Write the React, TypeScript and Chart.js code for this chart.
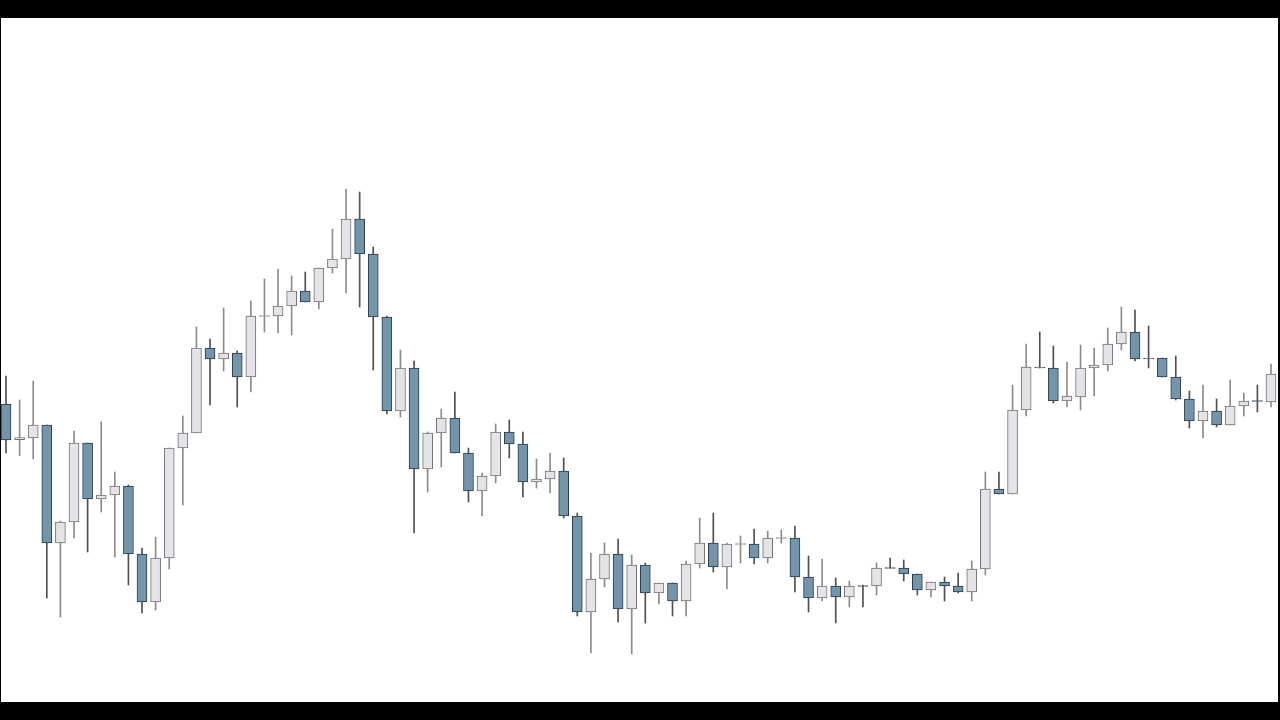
import React, { useEffect, useRef } from "react";
import { Chart, registerables } from "chart.js";

Chart.register(...registerables);

// OHLC values (94 sessions)
const opens = [
  298, 262.3, 264, 277, 159, 180, 259, 203, 207, 216, 148, 100, 144, 254, 269, 354, 343, 349, 325, 385.5,
  386, 396, 411, 400, 434, 443, 483, 448, 385, 291, 334, 233, 269, 284, 249, 211, 226, 270, 258, 220,
  223, 231, 186, 90, 123, 148, 93, 137, 109, 119, 101, 138, 159, 135, 157.5, 158, 144, 163.5, 164, 125,
  104, 116, 105, 116.5, 116, 134.5, 134, 128, 112, 120, 116, 110, 133, 213, 208, 292, 335, 334, 301, 305,
  334, 337, 358, 370, 344, 344, 325, 303, 281, 291, 277, 296, 301.5, 300,
];
const highs = [
  326, 302, 321, 277, 181, 271, 259, 280, 230, 217, 154, 165, 254, 286, 375, 363, 394, 351, 401, 423,
  433, 426, 430, 434, 473, 513, 510, 455, 386, 352, 341, 270, 293, 310, 254, 229, 278, 282, 270, 243,
  249, 244, 189, 149, 159, 163, 147, 139, 119, 119, 141, 184, 189, 159, 166, 173, 171, 172, 176, 146,
  143, 124, 121, 117, 139, 144, 142, 128, 120, 125, 129, 141, 230, 230, 317, 358, 370, 356, 340, 357,
  354, 374, 395, 392, 376, 344, 346, 311, 317, 303, 322, 309, 317, 338,
];
const lows = [
  249, 246.3, 243, 104, 85, 164, 150, 190, 145, 117, 89, 92, 133, 197, 269, 297, 331, 295, 310, 370,
  369, 367, 400, 393, 429, 409, 395, 332, 288, 285, 169, 210, 235, 249, 200, 186, 219, 244, 205, 214,
  209, 184, 86, 49, 115, 80, 48, 79, 98, 86, 86, 134, 130, 113, 139, 138, 139, 159, 110, 90,
  101, 79, 95, 95, 107, 134, 121, 107, 105, 101, 109, 101, 127, 208, 208, 286, 334, 299, 295, 292,
  306, 331, 352, 341, 334, 325, 302, 274, 264, 275, 277, 286, 290, 295,
];
const closes = [
  262, 264.3, 277, 159, 180, 259, 203, 207, 216, 148, 100, 144, 254, 269, 354, 343, 349, 325, 386, 386.5,
  396, 411, 400, 434, 443, 483, 448, 385, 291, 334, 233, 269, 284, 249, 211, 226, 270, 258, 220, 223,
  231, 186, 90, 123, 148, 93, 137, 109, 119, 101, 138, 159, 135, 158, 158.5, 144, 164, 164.5, 125, 104,
  116, 105, 116, 115.5, 134, 133.5, 128, 112, 120, 116, 110, 133, 213, 208, 292, 335, 334, 301, 306, 334,
  337, 358, 370, 343, 343, 325, 303, 281, 291, 277, 296, 301, 300.5, 328,
];

const BULL_FILL = "#e3e3e8";
const BULL_BORDER = "#747478";
const BEAR_FILL = "#7395ac";
const BEAR_BORDER = "#2c3b46";
const BULL_WICK = "#8c8c8c";
const BEAR_WICK = "#505050";

export default function App() {
  const ref = useRef<HTMLCanvasElement | null>(null);

  useEffect(() => {
    document.body.style.margin = "0";
    const canvas = ref.current;
    if (!canvas) return;
    const idx = opens.map((_, i) => i);
    const bodies = idx.map((i) => ({ x: i, y: [opens[i], closes[i]] }));
    const wicks = idx.map((i) => ({ x: i, y: [lows[i], highs[i]] }));
    const isBull = idx.map((i) => closes[i] >= opens[i]);

    const chart = new Chart(canvas, {
      type: "bar",
      data: {
        datasets: [
          {
            label: "body",
            data: bodies as any,
            backgroundColor: isBull.map((b) => (b ? BULL_FILL : BEAR_FILL)),
            borderColor: isBull.map((b) => (b ? BULL_BORDER : BEAR_BORDER)),
            borderWidth: 1,
            borderSkipped: false,
            barThickness: 10,
            grouped: false,
            order: 0,
          } as any,
          {
            label: "wick",
            data: wicks as any,
            backgroundColor: isBull.map((b) => (b ? BULL_WICK : BEAR_WICK)),
            borderWidth: 0,
            barThickness: 1,
            grouped: false,
            order: 1,
          } as any,
        ],
      },
      options: {
        animation: false,
        responsive: true,
        maintainAspectRatio: false,
        layout: { padding: 0 },
        plugins: { legend: { display: false }, tooltip: { enabled: false } },
        scales: {
          x: {
            type: "linear",
            display: false,
            min: -0.3676,
            max: 93.515,
            offset: false,
          },
          y: {
            type: "linear",
            display: false,
            min: 0,
            max: 684,
          },
        },
      },
    });
    return () => chart.destroy();
  }, []);

  return (
    <div
      style={{
        position: "relative",
        width: 1280,
        height: 720,
        background: "#000",
        overflow: "hidden",
      }}
    >
      <div
        style={{
          position: "absolute",
          left: 1,
          top: 18,
          width: 1277,
          height: 684,
          background: "#fff",
        }}
      >
        <canvas ref={ref} />
      </div>
    </div>
  );
}
